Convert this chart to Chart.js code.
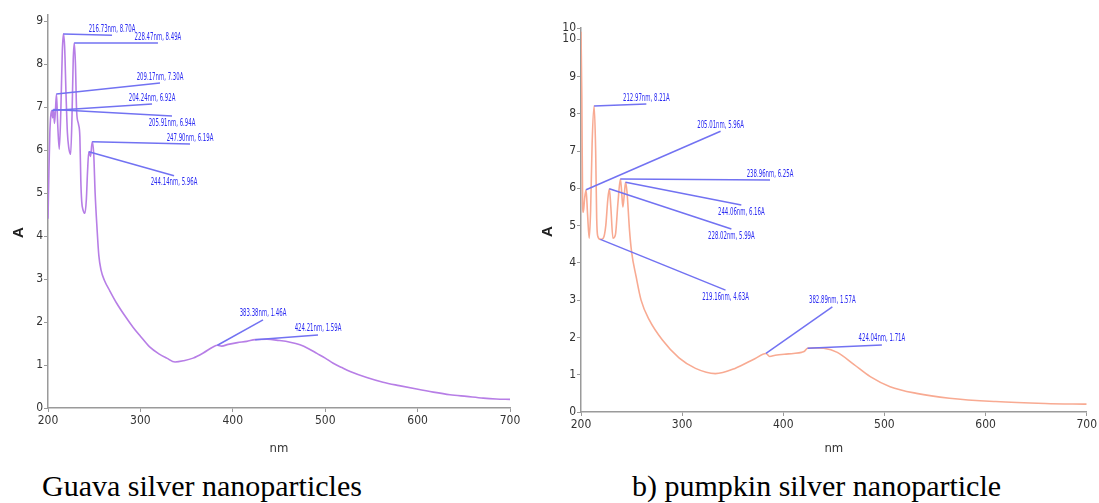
<!DOCTYPE html>
<html>
<head>
<meta charset="utf-8">
<script src="https://cdn.jsdelivr.net/npm/chart.js@4.4.0/dist/chart.umd.min.js"></script>
<style>
  body { margin: 0; background: #fff; width: 1099px; height: 503px; overflow: hidden; position: relative; }
  .box { position: absolute; top: 0; height: 460px; }
  #left-box { left: 0; width: 530px; }
  #right-box { left: 540px; width: 559px; }
  .ytitle { position: absolute; font: bold 15px "Liberation Sans", Arial, sans-serif; color: #222; transform: rotate(-90deg); }
  .caption { position: absolute; top: 469px; font-family: "Liberation Serif", "Times New Roman", serif; font-size: 30px; line-height: 34px; color: #000; white-space: nowrap; }
</style>
</head>
<body>
<div class="box" id="left-box"><canvas id="guava-chart"></canvas></div>
<div class="box" id="right-box"><canvas id="pumpkin-chart"></canvas></div>
<div class="ytitle" style="left:12px; top:224px;">A</div>
<div class="ytitle" style="left:541px; top:223px;">A</div>
<div class="caption" style="left:42px;">Guava silver nanoparticles</div>
<div class="caption" style="left:632px;">b) pumpkin silver nanoparticle</div>

<script>
// x axis ticks (wavelength, nm)
const xTicks = [200, 300, 400, 500, 600, 700];

// guava spectrum
const guavaNm = [200, 201, 202, 203, 204.24, 205.0, 205.91, 207.0, 208.0, 209.17, 210.5, 212.2, 214.0, 215.5, 216.73,
  218.0, 219.5, 221.0, 222.5, 224.5, 226.0, 227.3, 228.47, 229.7, 231.0, 233.0, 234.5, 235.5, 236.5, 238.0, 240.0,
  241.5, 242.8, 244.14, 246.0, 247.9, 249.5, 251.0, 253.0, 255.0, 257.5, 261, 267, 274.5, 283, 292, 300, 310, 320, 328.5, 337.5,
  347, 357, 368, 378.6, 383.38, 388, 395, 405, 415, 424.21, 437, 450, 462, 472.7, 482, 491, 500, 508.7, 518, 527,
  545, 562.6, 580, 599, 617, 635, 653, 671, 685, 700];
const guavaAbs = [4.40, 5.5, 6.4, 6.8, 6.92, 6.75, 6.94, 6.62, 6.9, 7.30, 6.6, 6.02, 7.0, 8.3, 8.70,
  8.4, 7.3, 6.4, 6.05, 5.90, 6.8, 8.1, 8.49, 8.0, 6.9, 6.6, 6.3, 5.3, 4.8, 4.6, 4.53,
  4.85, 5.5, 5.96, 5.85, 6.19, 5.9, 5.0, 4.2, 3.55, 3.2, 2.97, 2.72, 2.43, 2.15, 1.88, 1.67, 1.42, 1.26, 1.16, 1.07,
  1.10, 1.16, 1.28, 1.42, 1.46, 1.44, 1.48, 1.52, 1.55, 1.59, 1.60, 1.57, 1.53, 1.47, 1.38, 1.27, 1.16, 1.04, 0.94, 0.85,
  0.71, 0.60, 0.52, 0.44, 0.37, 0.31, 0.27, 0.23, 0.21, 0.20];
const guavaYTicks = [0, 1, 2, 3, 4, 5, 6, 7, 8, 9];

// guava peak picks: peak wavelength/absorbance and where the callout line ends (data units)
const guavaPeakNm = [216.73, 228.47, 209.17, 204.24, 205.91, 247.90, 244.14, 383.38, 424.21];
const guavaPeakAbs = [8.70, 8.49, 7.30, 6.92, 6.94, 6.19, 5.96, 1.46, 1.59];
const guavaCalloutNm = [269.3, 319.0, 321.2, 312.6, 334.2, 353.7, 336.4, 432.7, 492.2];
const guavaCalloutAbs = [8.67, 8.49, 7.56, 7.07, 6.79, 6.14, 5.40, 2.05, 1.70];
const guavaCalloutBelow = [false, false, false, false, true, false, true, false, false];

// pumpkin spectrum
const pumpkinNm = [200, 200.8, 201.6, 202.3, 203.5, 205.01, 206.5, 208.1, 209.5, 211.0, 212.97, 214.5, 215.5, 216.5,
  219.16, 222, 224.5, 226.5, 228.02, 229.5, 231.6, 234, 236.5, 238.96, 240.2, 241.4, 242.7, 244.06, 245.5, 247.9,
  250, 254.5, 259.4, 267.5, 280.5, 296.9, 313.2, 332.8, 352.3, 371.9, 382.89, 386.6, 392, 401, 410, 418, 421,
  424.04, 432, 440, 453.4, 469.7, 486, 505.6, 531.7, 564.3, 610, 659, 700];
const pumpkinAbs = [10.2, 8.5, 5.6, 5.36, 5.7, 5.96, 5.3, 4.66, 5.4, 7.2, 8.21, 7.0, 5.2, 4.72,
  4.63, 4.66, 5.0, 5.7, 5.99, 5.5, 4.66, 4.75, 5.6, 6.25, 5.9, 5.5, 5.8, 6.16, 5.9, 4.9,
  4.3, 3.63, 3.0, 2.47, 1.93, 1.45, 1.17, 1.03, 1.17, 1.43, 1.57, 1.49, 1.52, 1.55, 1.57, 1.60, 1.63,
  1.71, 1.72, 1.71, 1.60, 1.28, 0.95, 0.68, 0.50, 0.37, 0.28, 0.23, 0.21];
const pumpkinYTicks = [0, 1, 2, 3, 4, 5, 6, 7, 8, 9, 10, 10.3];

const pumpkinPeakNm = [212.97, 205.01, 238.96, 244.06, 228.02, 219.16, 382.89, 424.04];
const pumpkinPeakAbs = [8.21, 5.96, 6.25, 6.16, 5.99, 4.63, 1.57, 1.71];
const pumpkinCalloutNm = [264.6, 338.0, 386.9, 358.5, 348.7, 342.9, 448.5, 497.5];
const pumpkinCalloutAbs = [8.26, 7.53, 6.22, 5.55, 4.91, 3.27, 2.82, 1.80];
const pumpkinCalloutBelow = [false, false, false, true, true, true, false, false];

const narrow = "'Liberation Sans Narrow', 'DejaVu Sans Condensed', 'Arial Narrow', sans-serif";

// draws the blue peak-pick callouts on top of the curve
const peakCallouts = {
  id: "peakCallouts",
  afterDatasetsDraw(chart, args, opts) {
    const ctx = chart.ctx;
    const xs = chart.scales.x, ys = chart.scales.y;
    ctx.save();
    ctx.lineWidth = 1.5;
    ctx.strokeStyle = "#7272f2";
    ctx.fillStyle = "#2a2af2";
    ctx.font = "10px " + narrow;
    ctx.textAlign = "center";
    ctx.textBaseline = "middle";
    opts.nm.forEach((nm, i) => {
      const x0 = xs.getPixelForValue(nm), y0 = ys.getPixelForValue(opts.abs[i]);
      const x1 = xs.getPixelForValue(opts.toNm[i]), y1 = ys.getPixelForValue(opts.toAbs[i]);
      ctx.beginPath();
      ctx.moveTo(x0, y0);
      ctx.lineTo(x1, y1);
      ctx.stroke();
      const label = nm.toFixed(2) + "nm, " + opts.abs[i].toFixed(2) + "A";
      // the instrument prints these squeezed, so compress horizontally
      ctx.save();
      ctx.translate(x1, y1 + (opts.below[i] ? 7 : -6));
      ctx.scale(0.6, 1);
      ctx.fillText(label, 0, 0);
      ctx.restore();
    });
    ctx.restore();
  }
};

function buildSpectrum(canvasId, nm, abs, color, yTicks, yMax, peaks, pad, yWidth, xHeight) {
  const ctx = document.getElementById(canvasId).getContext("2d");
  return new Chart(ctx, {
    type: "line",
    data: {
      datasets: [{
        data: nm.map((v, i) => ({ x: v, y: abs[i] })),
        borderColor: color,
        borderWidth: 1.6,
        pointRadius: 0,
        cubicInterpolationMode: "monotone",
        fill: false
      }]
    },
    options: {
      responsive: true,
      maintainAspectRatio: false,
      animation: false,
      layout: { padding: pad },
      plugins: {
        legend: { display: false },
        tooltip: { enabled: false },
        peakCallouts: peaks
      },
      scales: {
        x: {
          type: "linear",
          min: xTicks[0],
          max: xTicks[xTicks.length - 1],
          afterBuildTicks: s => { s.ticks = xTicks.map(v => ({ value: v })); },
          afterFit: s => { s.height = xHeight; },
          grid: { drawOnChartArea: false, tickLength: 4, color: "#9a9a9a" },
          border: { color: "#9a9a9a", width: 1.5 },
          ticks: { color: "#333", font: { family: narrow, size: 12 }, padding: 2, maxRotation: 0 },
          title: { display: true, text: "nm", color: "#333", font: { family: narrow, size: 13 }, padding: { top: 2, bottom: 4 } }
        },
        y: {
          type: "linear",
          min: 0,
          max: yMax,
          afterBuildTicks: s => { s.ticks = yTicks.map(v => ({ value: v })); },
          afterFit: s => { s.width = yWidth; },
          grid: { drawOnChartArea: false, tickLength: 4, color: "#9a9a9a" },
          border: { color: "#9a9a9a", width: 1.5 },
          ticks: { color: "#333", font: { family: narrow, size: 12 }, padding: 1, callback: v => String(Math.floor(v)) }
        }
      }
    },
    plugins: [peakCallouts]
  });
}

buildSpectrum("guava-chart", guavaNm, guavaAbs, "#b77ee6", guavaYTicks, 9.14,
  { nm: guavaPeakNm, abs: guavaPeakAbs, toNm: guavaCalloutNm, toAbs: guavaCalloutAbs, below: guavaCalloutBelow },
  { top: 15, right: 20, left: 0, bottom: 0 }, 48, 52);

buildSpectrum("pumpkin-chart", pumpkinNm, pumpkinAbs, "#f8aa92", pumpkinYTicks, 10.3,
  { nm: pumpkinPeakNm, abs: pumpkinPeakAbs, toNm: pumpkinCalloutNm, toAbs: pumpkinCalloutAbs, below: pumpkinCalloutBelow },
  { top: 28, right: 8, left: 0, bottom: 0 }, 41, 48);
</script>
</body>
</html>
